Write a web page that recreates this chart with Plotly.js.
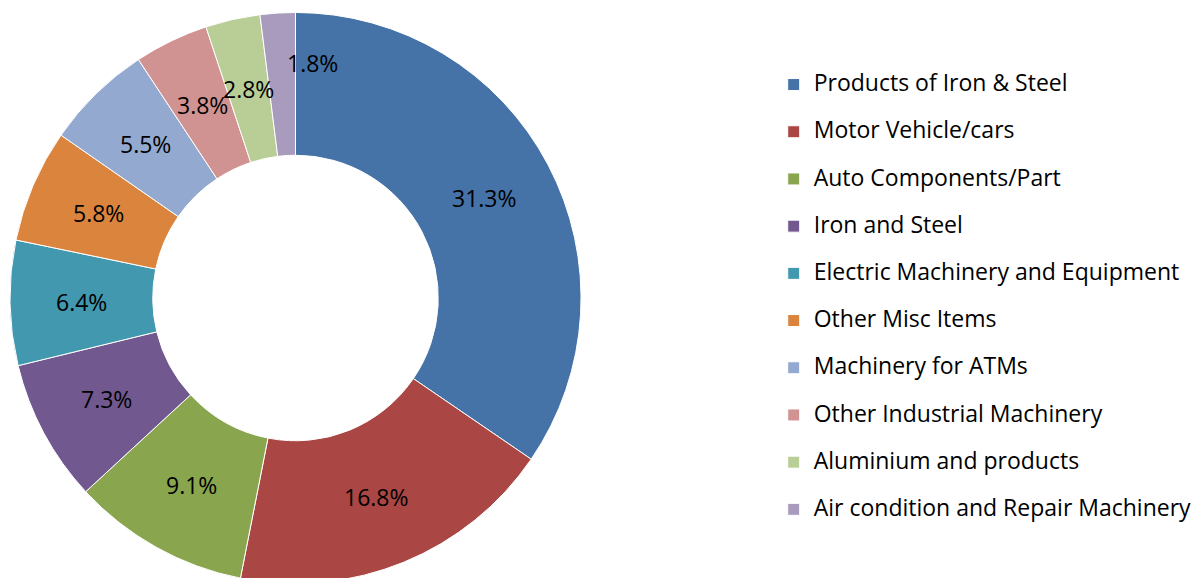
<!DOCTYPE html>
<html>
<head>
<meta charset="utf-8">
<script src="https://cdn.plot.ly/plotly-3.0.1.min.js"></script>
<style>
html,body{margin:0;padding:0;overflow:hidden;background:#fff;}
#chart{width:1197px;height:590px;}
</style>
</head>
<body>
<div id="chart"></div>
<script>
var categories = [
  "Products of Iron & Steel",
  "Motor Vehicle/cars",
  "Auto Components/Part",
  "Iron and Steel",
  "Electric Machinery and Equipment",
  "Other Misc Items",
  "Machinery for ATMs",
  "Other Industrial Machinery",
  "Aluminium and products",
  "Air condition and Repair Machinery"
];
var values = [31.3, 16.8, 9.1, 7.3, 6.4, 5.8, 5.5, 3.8, 2.8, 1.8];
var colors = ["#4572A7", "#AA4643", "#89A54E", "#71588F", "#4198AF",
              "#DB843D", "#93A9CF", "#D19392", "#B9CD96", "#A99BBD"];

var FONT = "Open Sans, sans-serif";
var legendLabels = categories.map(function (c) {
  return '<span style="font-size:23px">' + c.replace(/&/g, '&amp;') + '</span><br> ';
});

var W = 1197, H = 590;
var cx = 296, cyTop = 298, R = 286, HOLE = 0.5;

var trace = {
  type: 'pie',
  labels: legendLabels,
  values: values,
  textinfo: 'none',
  sort: false,
  direction: 'clockwise',
  rotation: 0,
  hole: HOLE,
  marker: {colors: colors, line: {color: '#ffffff', width: 1}},
  domain: {
    x: [(cx - R) / W, (cx + R) / W],
    y: [(H - cyTop - R) / H, (H - cyTop + R) / H]
  },
  hoverinfo: 'skip'
};

// data labels at the middle of the ring, derived from the values
var total = values.reduce(function (a, b) { return a + b; }, 0);
var rLab = R * (1 + HOLE) / 2;
var labelShift = {9: [30, 21]}; // small nudge for the narrowest slice (as in the original)
var annotations = [];
var cum = 0;
values.forEach(function (v, i) {
  var th = 2 * Math.PI * (cum + v / 2) / total;
  cum += v;
  var px = cx + rLab * Math.sin(th);
  var py = cyTop - rLab * Math.cos(th);
  var s = labelShift[i] || [0, 0];
  annotations.push({
    xref: 'paper', yref: 'paper',
    x: px / W, y: 1 - py / H,
    xanchor: 'center', yanchor: 'middle',
    xshift: s[0], yshift: s[1],
    text: v.toFixed(1) + '%',
    showarrow: false,
    font: {family: FONT, size: 23, color: '#000'}
  });
});

var layout = {
  width: W,
  height: H,
  margin: {l: 0, r: 0, t: 0, b: 0},
  paper_bgcolor: '#fff',
  showlegend: true,
  annotations: annotations,
  legend: {
    x: 775 / W,
    xanchor: 'left',
    y: 1 - 67 / H,
    yanchor: 'top',
    font: {family: FONT, size: 17, color: '#000'},
    valign: 'top',
    bgcolor: 'rgba(0,0,0,0)'
  },
  font: {family: FONT}
};

Plotly.newPlot('chart', [trace], layout, {displayModeBar: false, staticPlot: true});
</script>
</body>
</html>
